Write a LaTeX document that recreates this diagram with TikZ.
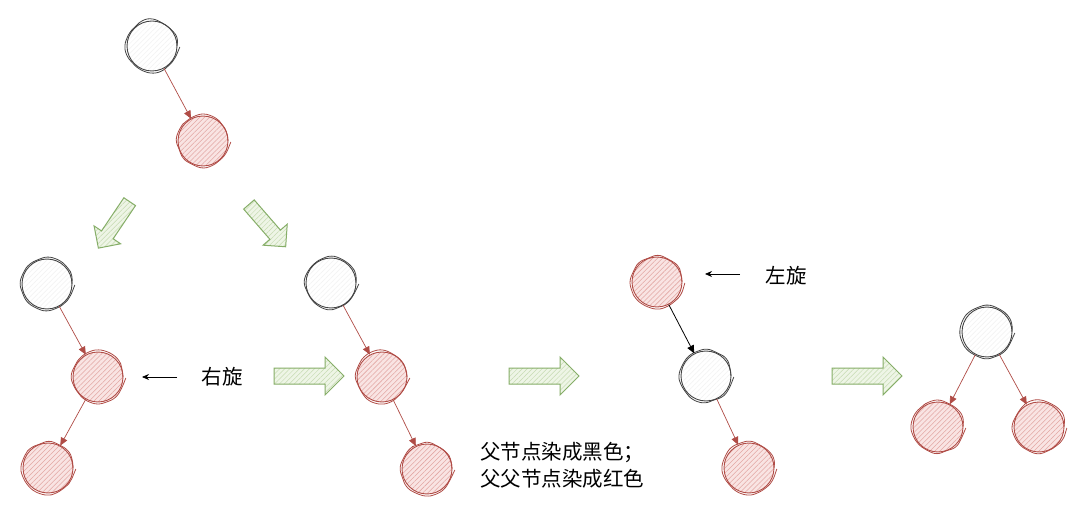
\documentclass[tikz,border=0pt]{standalone}
\usepackage{fontspec}
\newfontfamily\cjk{Noto Sans CJK SC}
\usetikzlibrary{shapes.arrows, patterns.meta, decorations.pathmorphing, arrows.meta}
\definecolor{rstroke}{HTML}{B04C46}
\definecolor{rfill}{HTML}{F9E4E3}
\definecolor{rhatch}{HTML}{E2A7A3}
\definecolor{kstroke}{HTML}{444444}
\definecolor{khatch}{HTML}{F2F2F2}
\definecolor{gstroke}{HTML}{86AE68}
\definecolor{gfill}{HTML}{EEF5E6}
\definecolor{ghatch}{HTML}{C6DBB2}
\tikzset{
  sketchline/.style={decorate, decoration={random steps, segment length=9pt, amplitude=1.3pt}, rounded corners=5pt},
  basenode/.style={circle, minimum size=50pt, inner sep=0pt, line width=0.9pt},
  rnode/.style={basenode, draw=rstroke, preaction={fill=rfill},
    pattern={Lines[angle=45,distance=3.5pt,line width=0.55pt]}, pattern color=rhatch,
    postaction={draw=rstroke, line width=0.8pt, sketchline}},
  knode/.style={basenode, draw=kstroke, preaction={fill=white},
    pattern={Lines[angle=45,distance=3.5pt,line width=0.5pt]}, pattern color=khatch,
    postaction={draw=kstroke, line width=0.8pt, sketchline}},
  redge/.style={draw=rstroke, line width=0.7pt, -{Triangle[length=8pt,width=7pt]}},
  kedge/.style={draw=black, line width=0.8pt, -{Triangle[length=8pt,width=7pt]}},
  note/.style={draw=black, line width=0.8pt, -{Stealth[length=7pt,width=6pt]}},
  garrow/.style={single arrow, draw=gstroke, line width=1pt, preaction={fill=gfill},
    pattern={Lines[angle=45,distance=3.5pt,line width=0.5pt]}, pattern color=ghatch,
    inner sep=0pt, inner ysep=7.5pt, minimum height=70pt, single arrow head extend=11pt},
  gdiag/.style={garrow, inner ysep=6.5pt, minimum height=56pt, single arrow head extend=9pt},
  label/.style={font=\cjk\fontsize{20.5}{27}\selectfont, text=black, inner sep=0pt},
}
\begin{document}
\begin{tikzpicture}[x=1pt, y=-1pt]
\useasboundingbox[fill=white] (0,0) rectangle (1080,505);
% top
\node[knode] (t0) at (152,46) {};
\node[rnode] (t1) at (203,141) {};
\draw[redge] (t0) -- (t1);
% diagonal green arrows
\node[gdiag, rotate=236] (g1) at (116,222) {};
\node[gdiag, rotate=-49] (g2) at (265,223) {};
% tree A
\node[knode] (a1) at (47,284) {};
\node[rnode] (a2) at (98,377) {};
\node[rnode] (a3) at (48,468) {};
\draw[redge] (a1) -- (a2);
\draw[redge] (a2) -- (a3);
\coordinate (ra) at (177,377);
\coordinate (rb) at (142,377);
\draw[note] (ra) -- (rb);
\node[label] (rt) at (222,377) {右旋};
\node[garrow] (g3) at (305,376) {};
% tree B
\node[knode] (b1) at (331,283) {};
\node[rnode] (b2) at (382,377) {};
\node[rnode] (b3) at (427,469) {};
\draw[redge] (b1) -- (b2);
\draw[redge] (b2) -- (b3);
\node[garrow] (g4) at (540,376) {};
\node[label, anchor=west, align=left] (txt) at (480,465) {父节点染成黑色；\\父父节点染成红色};
% tree C
\node[rnode] (c1) at (657,282) {};
\node[knode] (c2) at (706,376) {};
\node[rnode] (c3) at (749,468) {};
\draw[kedge] (c1) -- (c2);
\draw[redge] (c2) -- (c3);
\coordinate (la) at (740,274);
\coordinate (lb) at (705,274);
\draw[note] (la) -- (lb);
\node[label] (lt) at (786,276) {左旋};
\node[garrow] (g5) at (863,376) {};
% tree D
\node[knode] (d1) at (987,332) {};
\node[rnode] (d2) at (938,427) {};
\node[rnode] (d3) at (1039,427) {};
\draw[redge] (d1) -- (d2);
\draw[redge] (d1) -- (d3);
\end{tikzpicture}
\end{document}
